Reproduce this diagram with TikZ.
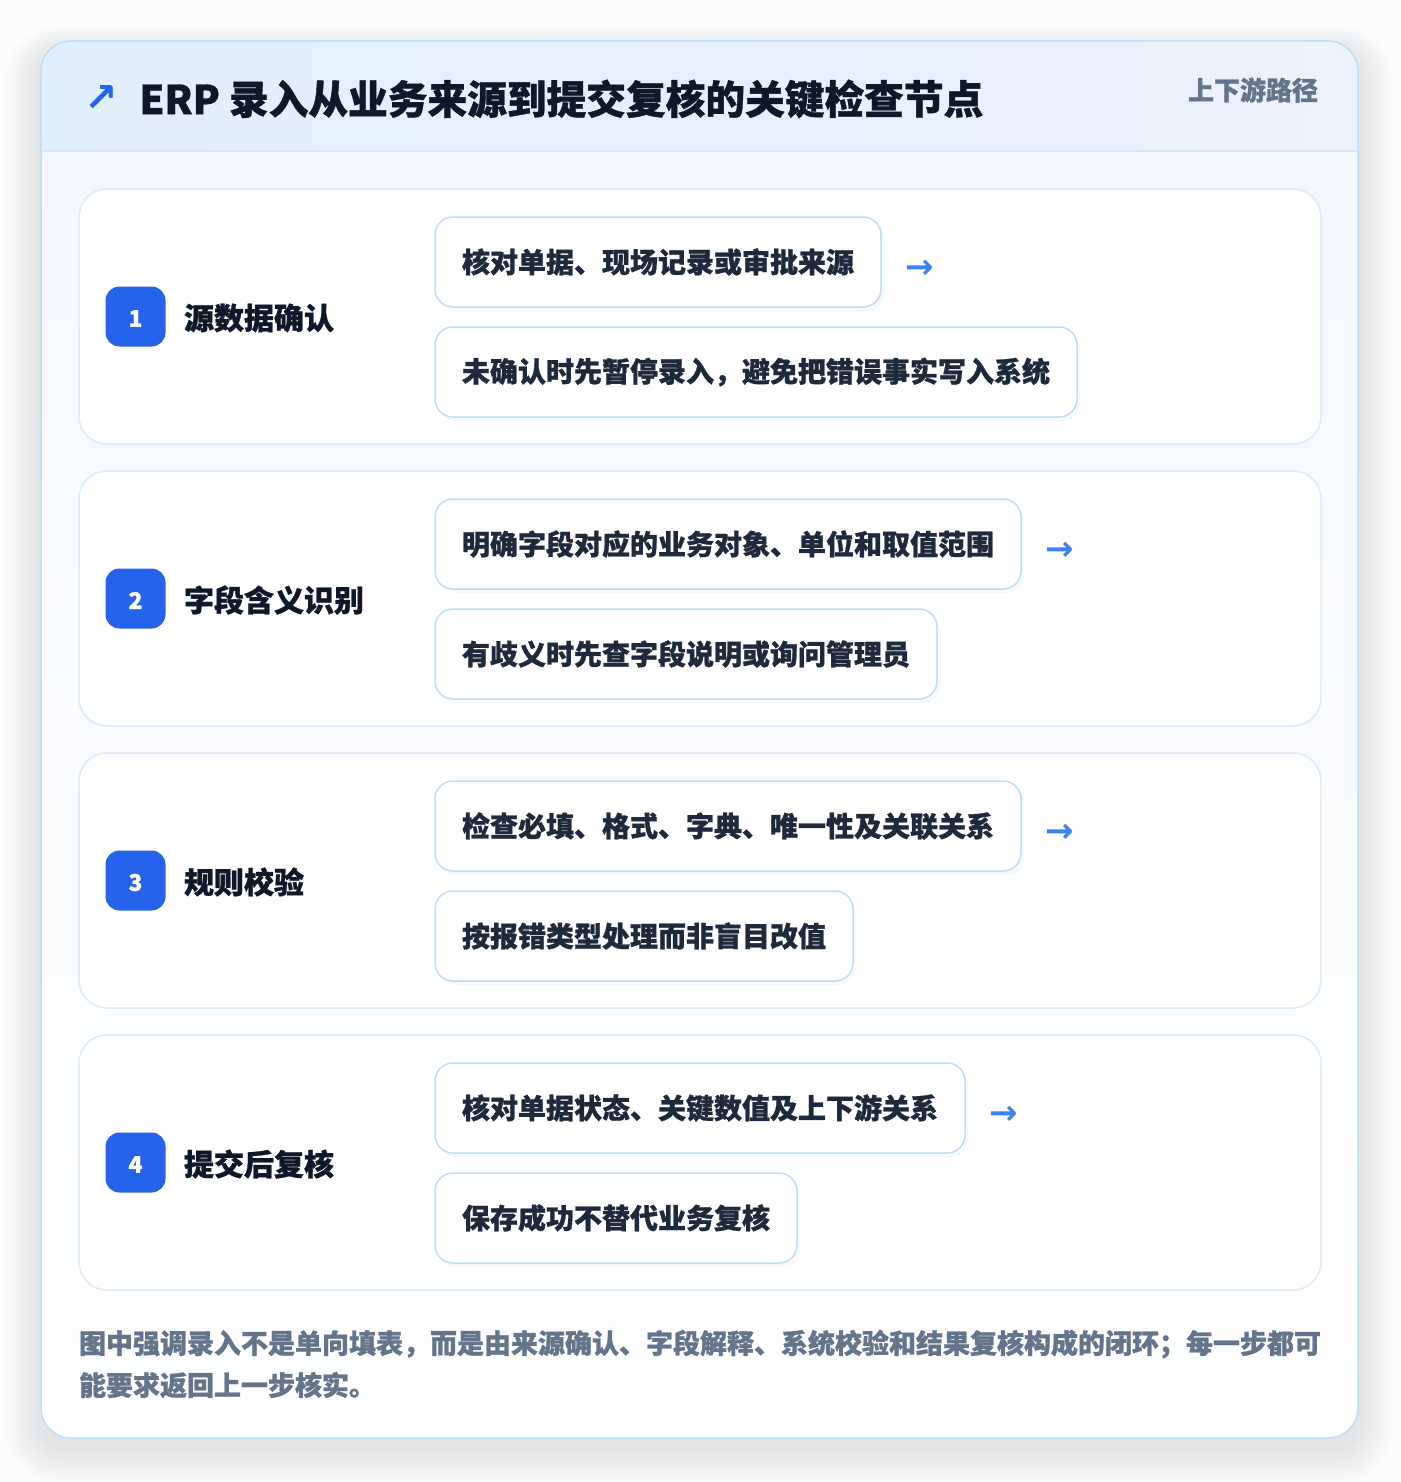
\documentclass[tikz,border=0pt]{standalone}
\usepackage{fontspec}
\setmainfont{Noto Sans CJK SC}[BoldFeatures={FakeBold=0.9}]
\newfontfamily\dejavu{DejaVu Sans}
\usetikzlibrary{shadows}
\definecolor{titletext}{HTML}{0F172A}
\definecolor{boxtext}{HTML}{1E293B}
\definecolor{mutedtext}{HTML}{64748B}
\definecolor{badgeblue}{HTML}{2563EB}
\definecolor{arrowblue}{HTML}{3B82F6}
\definecolor{outerborder}{HTML}{BAE0F7}
\definecolor{stepborder}{HTML}{DCEBFA}
\definecolor{subborder}{HTML}{BFDBFE}
\definecolor{headleft}{HTML}{E0EFFD}
\definecolor{headright}{HTML}{ECF2FE}
\definecolor{headline}{HTML}{D6E8F8}
\definecolor{bodytop}{HTML}{F4F8FD}
\definecolor{bodybottom}{HTML}{FFFFFF}
\definecolor{pagebg}{HTML}{FBFCFD}
\begin{document}
\begin{tikzpicture}[x=1pt,y=-1pt,
  every node/.style={inner sep=0pt, outer sep=0pt},
  stepcard/.style={draw=stepborder, line width=1.5pt, fill=white, rounded corners=28pt, minimum width=1242pt, minimum height=255pt, anchor=north west},
  subbox/.style={draw=subborder, line width=1.5pt, fill=white, rounded corners=18pt, minimum height=90pt, inner xsep=27pt, anchor=north west, font=\bfseries\fontsize{28}{34}\selectfont, text=boxtext, drop shadow={opacity=0.05, shadow xshift=3pt, shadow yshift=-4pt}},
  badge/.style={fill=badgeblue, rounded corners=14pt, minimum width=60pt, minimum height=60pt},
  badgenum/.style={text=white, font=\bfseries\fontsize{23}{28}\selectfont},
  steplabel/.style={anchor=west, font=\bfseries\fontsize{30}{36}\selectfont, text=titletext},
  arrowglyph/.style={anchor=west, text=arrowblue, font=\dejavu\bfseries\fontsize{34}{38}\selectfont},
]
\useasboundingbox (0,0) rectangle (1400,1482);
\fill[pagebg] (0,0) rectangle (1400,1482);
% outer shadow
\foreach \k in {1,...,12}{
  \fill[black, opacity=0.008, rounded corners=30+\k*2] (41-\k*3,41-\k*2+10) rectangle (1358+\k*3,1438+\k*3+10);
}
% outer card
\begin{scope}
  \clip[rounded corners=30pt] (41,41) rectangle (1358,1438);
  \shade[top color=bodytop, bottom color=bodybottom] (41,151) rectangle (1358,1438);
  \shade[left color=headleft, right color=headright] (41,41) rectangle (1358,151);
\end{scope}
\draw[headline, line width=1.5pt] (42,151) -- (1357,151);
\draw[outerborder, line width=1.5pt, rounded corners=30pt] (41,41) rectangle (1358,1438);
% header
\node[text=badgeblue, font=\dejavu\bfseries\fontsize{40}{44}\selectfont] (icon) at (101.5,99) {↗};
\node[anchor=west, text=titletext, font=\bfseries\fontsize{39.7}{48}\selectfont] (title) at (139.5,99) {ERP 录入从业务来源到提交复核的关键检查节点};
\node[anchor=east, text=mutedtext, font=\bfseries\fontsize{26}{30}\selectfont] (tag) at (1318,90) {上下游路径};
% steps
\foreach \i/\y/\lab/\ta/\tb in {
  1/189/源数据确认/核对单据、现场记录或审批来源/未确认时先暂停录入，避免把错误事实写入系统,
  2/471/字段含义识别/明确字段对应的业务对象、单位和取值范围/有歧义时先查字段说明或询问管理员,
  3/753/规则校验/检查必填、格式、字典、唯一性及关联关系/按报错类型处理而非盲目改值,
  4/1035/提交后复核/核对单据状态、关键数值及上下游关系/保存成功不替代业务复核}{
  \node[stepcard] (card\i) at (79,\y) {};
  \node[badge] (badge\i) at (135.5,\y+127.5) {};
  \node[badgenum] (num\i) at ([yshift=-2pt]badge\i.center) {\i};
  \node[steplabel] (lab\i) at (184,\y+129) {\lab};
  \node[subbox] (a\i) at (435,\y+28) {\ta};
  \node[subbox] (b\i) at (435,\y+138) {\tb};
  \node[arrowglyph] (arr\i) at ([xshift=24pt,yshift=-7pt]a\i.east) {→};
}
% footer
\node[anchor=west, align=left, text=mutedtext, font=\bfseries\fontsize{27}{42}\selectfont] (foot) at (79,1364) {图中强调录入不是单向填表，而是由来源确认、字段解释、系统校验和结果复核构成的闭环；每一步都可\\能要求返回上一步核实。};
\end{tikzpicture}
\end{document}
